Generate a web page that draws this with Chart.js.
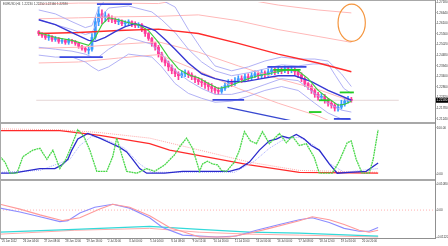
<!DOCTYPE html>
<html>
<head>
<meta charset="utf-8">
<script src="https://cdn.jsdelivr.net/npm/chart.js@4.4.1/dist/chart.umd.min.js"></script>
<style>
  html, body { margin: 0; padding: 0; background: #fff; }
  #wrap { position: relative; width: 448px; height: 246px; overflow: hidden; background: #fff; }
  .pane { position: absolute; left: 0; }
  .pane canvas { display: block; }
  .rule { position: absolute; background: #a8a8a8; }
</style>
</head>
<body>
<div id="wrap">
  <div class="pane" style="top:0"><canvas id="cMain" width="448" height="122"></canvas></div>
  <div class="pane" style="top:124px"><canvas id="cMid" width="448" height="55"></canvas></div>
  <div class="pane" style="top:181px"><canvas id="cBot" width="448" height="65"></canvas></div>
  <div class="rule" style="left:0;top:0;width:436px;height:1px"></div>
  <div class="rule" style="left:0;top:0;width:1px;height:238px"></div>
  <div class="rule" style="left:0;top:122px;width:436px;height:2px"></div>
  <div class="rule" style="left:0;top:179px;width:436px;height:2px"></div>
  <div class="rule" style="left:0;top:238px;width:436px;height:1px;background:#909090"></div>
  <div class="rule" style="left:435px;top:0;width:1px;height:239px;background:#909090"></div>
</div>
<script>
// ---- price candles (H4) ----
const firstOpen = 1.2568;
const candleClose = [
  1.2558,1.2548,1.2538,1.2543,1.2528,1.2533,1.2518,1.2523,1.2513,1.2523,
  1.2518,1.2508,1.2493,1.2483,1.2473,1.2478,1.2538,1.2618,1.2658,1.2638,
  1.2648,1.2633,1.2628,1.2618,1.2623,1.2608,1.2613,1.2618,1.2608,1.2598,
  1.2603,1.2578,1.2558,1.2533,1.2508,1.2488,1.2453,1.2423,1.2408,1.2388,
  1.2368,1.2353,1.2343,1.2353,1.2358,1.2348,1.2338,1.2323,1.2313,1.2308,
  1.2298,1.2288,1.2278,1.2268,1.2263,1.2278,1.2293,1.2308,1.2303,1.2318,
  1.2328,1.2323,1.2338,1.2333,1.2343,1.2353,1.2343,1.2358,1.2348,1.2363,
  1.2373,1.2363,1.2373,1.2368,1.2378,1.2368,1.2373,1.2363,1.2348,1.2328,
  1.2303,1.2288,1.2268,1.2248,1.2233,1.2238,1.2218,1.2203,1.2193,1.2178,
  1.2183,1.2198,1.2213,1.2223,1.2218
];
const candleHigh = [
  1.2573,1.2563,1.2553,1.2553,1.2548,1.2543,1.2538,1.2533,1.2528,1.2533,
  1.2528,1.2523,1.2513,1.2498,1.2488,1.2488,1.2558,1.2638,1.2693,1.2678,
  1.2668,1.2658,1.2648,1.2638,1.2633,1.2628,1.2623,1.2628,1.2623,1.2618,
  1.2613,1.2608,1.2583,1.2563,1.2538,1.2513,1.2498,1.2463,1.2438,1.2418,
  1.2398,1.2378,1.2363,1.2368,1.2373,1.2368,1.2358,1.2343,1.2333,1.2328,
  1.2318,1.2308,1.2303,1.2288,1.2283,1.2288,1.2308,1.2323,1.2323,1.2333,
  1.2343,1.2343,1.2353,1.2353,1.2358,1.2368,1.2363,1.2373,1.2368,1.2378,
  1.2388,1.2383,1.2388,1.2383,1.2393,1.2388,1.2388,1.2383,1.2373,1.2358,
  1.2338,1.2308,1.2298,1.2278,1.2258,1.2253,1.2248,1.2228,1.2218,1.2203,
  1.2198,1.2218,1.2228,1.2238,1.2233
];
const candleLow = [
  1.2548,1.2538,1.2528,1.2523,1.2518,1.2518,1.2508,1.2508,1.2503,1.2503,
  1.2508,1.2498,1.2483,1.2473,1.2463,1.2453,1.2468,1.2528,1.2598,1.2608,
  1.2618,1.2618,1.2613,1.2608,1.2603,1.2598,1.2598,1.2603,1.2593,1.2588,
  1.2588,1.2568,1.2543,1.2523,1.2493,1.2473,1.2438,1.2413,1.2393,1.2368,
  1.2353,1.2338,1.2323,1.2333,1.2338,1.2333,1.2323,1.2308,1.2298,1.2288,
  1.2278,1.2268,1.2258,1.2253,1.2248,1.2253,1.2268,1.2283,1.2288,1.2293,
  1.2308,1.2308,1.2313,1.2318,1.2323,1.2333,1.2328,1.2333,1.2333,1.2338,
  1.2348,1.2348,1.2353,1.2353,1.2358,1.2353,1.2358,1.2348,1.2333,1.2313,
  1.2288,1.2273,1.2253,1.2233,1.2218,1.2218,1.2203,1.2188,1.2178,1.2163,
  1.2163,1.2173,1.2188,1.2203,1.2208
];

// ---- main pane indicators: [bar, price] ----
const redMA = [[0,1.2558],[12,1.2563],[24,1.2573],[36,1.25805],[48,1.2558],[60,1.2508],[72,1.2453],[84,1.2408],[94,1.2363]];
const pinkUp2 = [[0,1.2708],[12,1.2713],[24,1.2713],[36,1.27105],[48,1.2748],[60,1.2738],[72,1.2703],[84,1.2678],[94,1.2663]];
const pinkUp1 = [[0,1.2633],[12,1.2638],[24,1.2643],[36,1.26455],[48,1.2653],[60,1.2623],[72,1.2578],[84,1.2543],[94,1.2513]];
const pinkDn1 = [[0,1.2483],[12,1.2488],[24,1.2503],[36,1.25155],[48,1.2463],[60,1.2393],[72,1.2328],[84,1.2273],[94,1.2213]];
const pinkDn2 = [[0,1.2408],[12,1.2413],[24,1.2433],[36,1.24505],[48,1.2368],[60,1.2278],[72,1.2203],[84,1.2138],[94,1.2063]];
const bandUp2 = [[0,1.2678],[5,1.2658],[10,1.2618],[14,1.2588],[16,1.2598],[18,1.2688],[21,1.2748],[27,1.2758],[34,1.2748],[37,1.2728],[41,1.2693],[45,1.2578],[49,1.2478],[53,1.2393],[58,1.2368],[63,1.2388],[68,1.2418],[73,1.2438],[78,1.2428],[83,1.2428],[87,1.2418],[91,1.2353],[94,1.2288]];
const bandUp1 = [[0,1.2628],[5,1.2603],[10,1.2578],[14,1.2553],[16,1.2563],[18,1.2628],[21,1.2688],[27,1.2698],[34,1.2668],[37,1.2628],[41,1.2563],[45,1.2478],[49,1.2413],[53,1.2368],[58,1.2343],[63,1.2358],[68,1.2378],[73,1.2398],[78,1.2393],[82.5,1.2403],[87,1.2403],[89.25,1.2343],[91.75,1.2278],[94,1.2253]];
const bandDn1 = [[0,1.2488],[5,1.2478],[10,1.2468],[14,1.2453],[16,1.2438],[18,1.2438],[21,1.2478],[27,1.2538],[34,1.2503],[37,1.2453],[41,1.2368],[45,1.2318],[49,1.2278],[53,1.2248],[58,1.2248],[63,1.2268],[68,1.2298],[73,1.2328],[78,1.2318],[83,1.2253],[87,1.2203],[91,1.2168],[94,1.2158]];
const bandDn2 = [[0,1.2448],[5,1.2438],[10,1.2438],[14,1.2413],[16,1.2388],[18,1.2368],[21,1.2388],[27,1.2453],[34,1.2438],[37,1.2388],[41,1.2303],[45,1.2253],[49,1.2228],[53,1.2208],[58,1.2213],[63,1.2238],[68,1.2268],[73,1.2288],[78,1.2268],[83,1.2203],[87,1.2153],[91,1.2123],[94,1.2118]];
const blueMA = [[0,1.2628],[5,1.2603],[10,1.2563],[15,1.2523],[17,1.2518],[20,1.2538],[23,1.2568],[26,1.2593],[29,1.2608],[32,1.2593],[35,1.2573],[38,1.2528],[41,1.2478],[45,1.2408],[49,1.2353],[53,1.2328],[57,1.2313],[62,1.2313],[67,1.2328],[72,1.2343],[77,1.2343],[82,1.2313],[87,1.2268],[94,1.2218]];
const greenMA = [[0,1.2563],[5,1.2538],[10,1.2523],[15,1.2498],[17,1.2538],[19,1.2603],[21,1.2638],[24,1.2628],[27,1.2613],[30,1.2603],[33,1.2573],[36,1.2513],[39,1.2438],[42,1.2378],[45,1.2348],[48,1.2333],[51,1.2303],[54,1.2278],[57,1.2288],[60,1.2308],[63,1.2328],[66,1.2343],[69,1.2353],[72,1.2363],[75,1.2373],[78,1.2368],[81,1.2328],[84,1.2268],[87,1.2228],[90,1.2193],[92,1.2198],[94,1.2213]];
// drawn objects
const blueLevels = [[[17.5,1.2708],[28,1.2708]], [[6.25,1.2438],[19.25,1.2438]], [[52.25,1.22205],[61.75,1.22205]], [[68.75,1.2388],[80.5,1.2388]], [[88.75,1.2123],[93.75,1.2123]]];
const greenLevels = [[[70.5,1.2373],[78.75,1.2373]], [[90.5,1.2258],[94.75,1.2258]], [[84.25,1.2218],[87.5,1.2218]], [[81.25,1.2158],[85,1.2158]]];
const trendLine = [[56.75,1.21815],[84.25,1.2084]];
const ovalCenter = [94.1, 1.2613];
const ovalRadius = [4.1, 0.0095];
const priceTicks = [1.2718,1.2664,1.2610,1.2556,1.2502,1.2448,1.2394,1.2340,1.2286,1.2232,1.2178,1.2124];
const headerText = 'EURUSD,H4  1.22230 1.22250 1.22160 1.22180';

// ---- oscillator pane ----
const oscGreen = [[-0.75,38],[0.5,26],[1.75,2],[3.5,2],[5,38],[7.5,52],[9.25,56],[11,32],[12.5,52],[14.25,12],[15.75,32],[16.75,52],[18.75,96],[20.25,82],[21.75,52],[23.5,6],[26,6],[27.5,38],[28.5,78],[29.75,42],[31,6],[33.5,2],[36,12],[38,6],[40.5,20],[43,42],[44.5,62],[46,78],[47.5,56],[49.25,6],[50,22],[51.25,28],[52.5,22],[53.75,20],[54.75,8],[56,6],[58,26],[59.25,52],[60.5,92],[62,72],[63.5,66],[65,92],[66.75,66],[69.25,88],[71,68],[72.5,82],[74.25,62],[76,66],[78,36],[79.25,2],[82.5,2],[84.25,28],[86.25,68],[87.25,72],[88.5,32],[90,2],[91.75,2],[92.75,32],[94,96]];
const oscBlue = [[-0.75,2],[2.5,2],[9.25,12],[13,12],[14.75,20],[16.25,32],[17.25,52],[18.75,76],[21.25,88],[24.25,78],[26.75,68],[29.25,58],[31,48],[32.5,32],[34.25,12],[36,2],[40.5,2],[45,6],[56.75,6],[59.25,12],[61.75,26],[64.25,52],[66.75,72],[68.5,76],[70,82],[71.75,78],[73.5,86],[75.5,76],[77.25,62],[79.25,52],[81.75,22],[83.75,2],[86.75,4],[91,6],[94,24]];
const oscSignal = [[-0.75,4],[9.25,8],[16.75,32],[19.25,62],[22.25,82],[25.5,76],[30.5,56],[34.25,22],[37.25,4],[58,4],[63,28],[66.75,56],[70.5,76],[74.25,80],[78,62],[82,22],[85.5,4],[94,12]];
const oscRed = [[-0.75,94],[14.25,94],[24.25,84],[36.75,66],[41.75,52],[49.25,40],[61.75,20],[74.25,4],[94,2]];
const oscPink = [[-0.75,98],[14.25,96],[24.25,90],[36.75,78],[49.25,52],[61.75,26],[74.25,8],[94,4]];
const oscTicks = [100, 0];
const oscTickText = ['100.00', '0.00'];

// ---- MACD pane ----
const macdMain = [[-0.75,0.0024],[4.25,0.0004],[9.25,-0.002],[15,-0.0044],[19.25,-0.0032],[24.25,0.0004],[27.5,0.0024],[31.75,0.0012],[36.75,-0.0024],[41.75,-0.0072],[49.25,-0.0112],[56.75,-0.0112],[61.75,-0.0096],[66.75,-0.0076],[74.25,-0.0044],[77.5,-0.0028],[81.75,-0.004],[85.5,-0.006],[89.25,-0.0084],[91.75,-0.0092],[94,-0.0084]];
const macdSignal = [[-0.75,0.0008],[4.25,-0.0008],[9.25,-0.0028],[14.25,-0.0048],[16.25,-0.0044],[19.25,-0.0012],[23,0.0012],[27.5,0.0024],[31.75,0.0008],[36.75,-0.0032],[40,-0.0072],[45,-0.0104],[53.5,-0.0112],[58.5,-0.0108],[63.5,-0.0084],[69.25,-0.006],[74.25,-0.004],[77.5,-0.0032],[81.75,-0.0052],[85.5,-0.0076],[89.25,-0.0088],[91.75,-0.0088],[94,-0.0072]];
const slowCyan = [[-0.75,-0.0092],[18,-0.008],[36.75,-0.0068],[49.25,-0.008],[61.75,-0.0092],[74.25,-0.0096],[94,-0.0108]];
const slowPink = [[-0.75,-0.01],[18,-0.0084],[36.75,-0.0076],[49.25,-0.0092],[61.75,-0.01],[74.25,-0.0104],[94,-0.0112]];
const macdTicks = [0.0108, 0, -0.0112];
const macdTickText = ['0.01080', '0.00', '-0.01120'];

const timeLabels = ['25 Jun 2012','26 Jun 04:00','27 Jun 08:00','28 Jun 12:00','29 Jun 16:00','2 Jul 20:00','4 Jul 00:00','5 Jul 04:00','6 Jul 08:00','9 Jul 12:00','10 Jul 16:00','11 Jul 20:00','13 Jul 00:00','16 Jul 04:00','17 Jul 08:00','18 Jul 12:00','19 Jul 16:00','20 Jul 20:00'];

// ---------------------------------------------------------------
Chart.defaults.font.family = "'Liberation Sans', Arial, sans-serif";
Chart.defaults.animation = false;
Chart.defaults.plugins.legend.display = false;
Chart.defaults.plugins.tooltip.enabled = false;

const X_MIN = -0.75, X_MAX = 108.25;

function pts(list) { return list.map(p => ({ x: p[0], y: p[1] })); }
function line(list, color, width, extra) {
  return Object.assign({
    type: 'line', data: pts(list), borderColor: color, borderWidth: width,
    pointRadius: 0, tension: 0, fill: false, order: 5
  }, extra || {});
}
function yAxis(values, text, min, max) {
  return {
    type: 'linear', position: 'right', min: min, max: max,
    grid: { display: true, drawOnChartArea: false, drawTicks: true, tickLength: 1.5, color: '#909090' },
    border: { display: false },
    ticks: { autoSkip: false, padding: 0.3, font: { size: 3 }, color: '#333', callback: (v, i) => text[i] },
    afterBuildTicks: s => { s.ticks = values.map(v => ({ value: v })); },
    afterFit: s => { s.width = 13; }
  };
}
const hiddenX = { type: 'linear', min: X_MIN, max: X_MAX, display: false };

// candles
const opens = candleClose.map((c, i) => i === 0 ? firstOpen : candleClose[i - 1]);
const candleColor = candleClose.map((c, i) => c >= opens[i] ? '#3a9cff' : '#ff3c9c');
const lastPrice = candleClose[candleClose.length - 1];

const mainDecor = {
  id: 'mainDecor',
  afterDatasetsDraw(chart) {
    const { ctx, scales: { x, y } } = chart;
    const cx = x.getPixelForValue(ovalCenter[0]), cy = y.getPixelForValue(ovalCenter[1]);
    const rx = Math.abs(x.getPixelForValue(ovalCenter[0] + ovalRadius[0]) - cx);
    const ry = Math.abs(y.getPixelForValue(ovalCenter[1] + ovalRadius[1]) - cy);
    ctx.save();
    ctx.beginPath();
    ctx.ellipse(cx, cy, rx, ry, 0, 0, Math.PI * 2);
    ctx.strokeStyle = '#f5963f';
    ctx.lineWidth = 1.2;
    ctx.stroke();
    ctx.restore();
  },
  afterDraw(chart) {
    const { ctx, chartArea, scales: { y } } = chart;
    const py = y.getPixelForValue(lastPrice);
    ctx.save();
    ctx.fillStyle = '#000';
    ctx.fillRect(chartArea.right + 1, py - 2.5, 12, 5);
    ctx.fillStyle = '#fff';
    ctx.font = "3px 'Liberation Sans'";
    ctx.textBaseline = 'middle';
    ctx.fillText(lastPrice.toFixed(5), chartArea.right + 1.5, py);
    ctx.fillStyle = '#444';
    ctx.fillText(headerText, 3, 4);
    ctx.restore();
  }
};

const mainSets = [
  { type: 'bar', data: candleClose.map((c, i) => ({ x: i, y: [candleLow[i], candleHigh[i]] })),
    backgroundColor: candleColor, barThickness: 1, grouped: false, order: 20 },
  { type: 'bar', data: candleClose.map((c, i) => ({ x: i, y: [opens[i], c] })),
    backgroundColor: candleColor, barThickness: 2.2, grouped: false, minBarLength: 1, order: 19 },
  line([[X_MIN, lastPrice], [X_MAX, lastPrice]], '#e6d6d6', 1, { order: 30 }),
  line(pinkUp2, '#ffb8b8', 1, { order: 12 }),
  line(pinkUp1, '#ffb8b8', 1, { order: 12 }),
  line(pinkDn1, '#ffb8b8', 1, { order: 12 }),
  line(pinkDn2, '#ffb8b8', 1, { order: 12 }),
  line(bandUp2, '#a8a8f4', 0.9, { order: 11 }),
  line(bandUp1, '#a8a8f4', 0.9, { order: 11 }),
  line(bandDn1, '#a8a8f4', 0.9, { order: 11 }),
  line(bandDn2, '#a8a8f4', 0.9, { order: 11 }),
  line(redMA, '#ff2a2a', 1.4, { order: 4 }),
  line(blueMA, '#3838d4', 1.4, { order: 3 }),
  line(greenMA, '#3ccc3c', 1.1, { order: 2 }),
  line(trendLine, '#3848d0', 1.3, { order: 1 })
];
blueLevels.forEach(s => mainSets.push(line(s, '#3848e0', 1.8, { order: 1 })));
greenLevels.forEach(s => mainSets.push(line(s, '#22cc22', 1.8, { order: 1 })));

new Chart(document.getElementById('cMain'), {
  type: 'bar',
  data: { datasets: mainSets },
  options: {
    responsive: false,
    layout: { padding: { top: 2, left: 0, right: 0, bottom: 0 } },
    scales: { x: hiddenX, y: yAxis(priceTicks, priceTicks.map(v => v.toFixed(5)), 1.2118, 1.2718) }
  },
  plugins: [mainDecor]
});

new Chart(document.getElementById('cMid'), {
  type: 'line',
  data: { datasets: [
    line(oscPink, '#ffa8a8', 1, { borderDash: [1, 1], order: 6 }),
    line(oscRed, '#ff2a2a', 1.2, { order: 5 }),
    line(oscSignal, '#a8acff', 1, { borderDash: [1, 1], order: 4 }),
    line(oscBlue, '#2a2acc', 1.3, { order: 3 }),
    line(oscGreen, '#4ad84a', 1.3, { order: 2, borderDash: [2, 0.6] })
  ] },
  options: {
    responsive: false,
    layout: { padding: 0 },
    scales: { x: hiddenX, y: yAxis(oscTicks, oscTickText, -6, 104) }
  }
});

new Chart(document.getElementById('cBot'), {
  type: 'line',
  data: { datasets: [
    line([[X_MIN, 0], [X_MAX, 0]], '#ffb0b0', 1, { borderDash: [1, 2], order: 9 }),
    line(slowPink, '#ffaaaa', 1, { order: 6 }),
    line(slowCyan, '#33dada', 1.2, { order: 5 }),
    line(macdSignal, '#8c8cff', 1.1, { order: 4 }),
    line(macdMain, '#ff9a9a', 1.1, { order: 3 })
  ] },
  options: {
    responsive: false,
    layout: { padding: 0 },
    scales: {
      x: {
        type: 'linear', min: X_MIN, max: X_MAX,
        grid: { display: true, drawOnChartArea: false, drawTicks: true, tickLength: 1.5, color: '#909090' },
        border: { display: false },
        ticks: { autoSkip: false, maxRotation: 0, minRotation: 0, align: 'start', padding: 0.5,
                 font: { size: 2.7 }, color: '#333', callback: (v, i) => timeLabels[i] },
        afterBuildTicks: s => { s.ticks = timeLabels.map((t, k) => ({ value: k * 5.31 - 0.25 })); },
        afterFit: s => { s.height = 8; }
      },
      y: yAxis(macdTicks, macdTickText, -0.0116, 0.0112)
    }
  }
});
</script>
</body>
</html>
